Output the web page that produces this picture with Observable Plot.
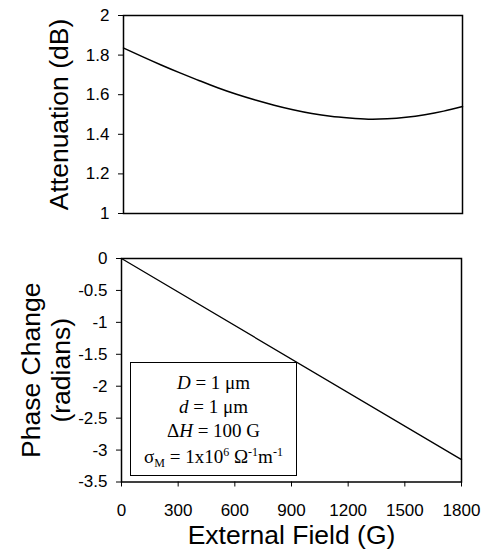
<!DOCTYPE html>
<html>
<head>
<meta charset="utf-8">
<script src="https://cdn.jsdelivr.net/npm/d3@7"></script>
<script src="https://cdn.jsdelivr.net/npm/@observablehq/plot@0.6"></script>
<style>
  html, body { margin: 0; padding: 0; background: #fff; }
  #wrap { position: relative; width: 484px; height: 550px; }
  #wrap svg { display: block; }
  #legend {
    position: absolute; left: 130px; top: 362px; width: 167px; height: 114px;
    border: 1.5px solid #000; background: #fff;
    font-family: "Liberation Serif", "Times New Roman", serif; font-size: 19px;
    line-height: 24px; text-align: center; padding-top: 8px; box-sizing: border-box;
  }
  #legend div { height: 24px; white-space: nowrap; }
  #legend div:last-child { margin-top: 2px; }
  #legend sup, #legend sub { font-size: 12px; line-height: 0; }
  #legend sup { vertical-align: 7px; }
  #legend sub { vertical-align: -4px; }
</style>
</head>
<body>
<div id="wrap"></div>
<script>
// External field (G)
const field = [0, 100, 200, 300, 400, 500, 600, 700, 800, 900, 1000, 1100, 1200, 1300, 1400, 1500, 1600, 1700, 1800];
// Attenuation (dB)
const attenuation = [1.836, 1.792, 1.750, 1.710, 1.672, 1.635, 1.602, 1.573, 1.547, 1.524, 1.505, 1.491, 1.482, 1.476, 1.478, 1.486, 1.499, 1.517, 1.540];
// Phase change (radians)
const phaseField = [0, 1800];
const phase = [0, -3.15];

const xTicks = [0, 300, 600, 900, 1200, 1500, 1800];
const attTicks = [1, 1.2, 1.4, 1.6, 1.8, 2];
const phaseTicks = [0, -0.5, -1, -1.5, -2, -2.5, -3, -3.5];

const xTitle = "External Field (G)";
const attTitle = "Attenuation (dB)";
const phaseTitle = "Phase Change\n(radians)";
const legendLines = [
  '<i>D</i> = 1 μm',
  '<i>d</i> = 1 μm',
  'Δ<i>H</i> = 100 G',
  'σ<sub>M</sub> = 1x10<sup>6</sup> Ω<sup>-1</sup>m<sup>-1</sup>'
];

const attData = field.map((x, i) => ({x, y: attenuation[i]}));
const phaseData = phaseField.map((x, i) => ({x, y: phase[i]}));
const fmt = d => String(d);
const font = '"Liberation Sans", Arial, sans-serif';

const topChart = Plot.plot({
  width: 484, height: 225,
  marginLeft: 123, marginRight: 22, marginTop: 15, marginBottom: 12,
  style: {fontFamily: font, fontSize: "17px", color: "#000", background: "#fff"},
  x: {domain: [0, 1800], axis: null},
  y: {domain: [1, 2]},
  marks: [
    Plot.axisY({ticks: attTicks, tickSize: 5, tickPadding: 9, tickFormat: fmt, label: null}),
    Plot.line(attData, {x: "x", y: "y", stroke: "#000", strokeWidth: 1.5, curve: "natural"}),
    Plot.frame({stroke: "#000", strokeWidth: 1.5}),
    Plot.text([attTitle], {text: d => d, frameAnchor: "left", rotate: -90, dx: -64, fontSize: 26.5, textAnchor: "middle", lineAnchor: "middle", fill: "#000"})
  ]
});

const bottomChart = Plot.plot({
  width: 484, height: 325,
  marginLeft: 121, marginRight: 23, marginTop: 33, marginBottom: 68.5,
  style: {fontFamily: font, fontSize: "17px", color: "#000", background: "#fff"},
  x: {domain: [0, 1800]},
  y: {domain: [-3.5, 0]},
  marks: [
    Plot.axisY({ticks: phaseTicks, tickSize: 5, tickPadding: 9, tickFormat: fmt, label: null}),
    Plot.axisX({ticks: xTicks, tickSize: 5, tickPadding: 17, tickFormat: fmt, label: null}),
    Plot.line(phaseData, {x: "x", y: "y", stroke: "#000", strokeWidth: 1.3}),
    Plot.frame({stroke: "#000", strokeWidth: 1.5}),
    Plot.text([phaseTitle], {text: d => d, frameAnchor: "left", rotate: -90, dx: -76, fontSize: 26.5, lineHeight: 1.12, textAnchor: "middle", lineAnchor: "middle", fill: "#000"}),
    Plot.text([xTitle], {text: d => d, frameAnchor: "bottom", dy: 54, fontSize: 26.5, textAnchor: "middle", lineAnchor: "middle", fill: "#000"})
  ]
});

const wrap = document.getElementById("wrap");
wrap.appendChild(topChart);
wrap.appendChild(bottomChart);
const legend = document.createElement("div");
legend.id = "legend";
legend.innerHTML = legendLines.map(s => `<div>${s}</div>`).join("");
wrap.appendChild(legend);
</script>
</body>
</html>
